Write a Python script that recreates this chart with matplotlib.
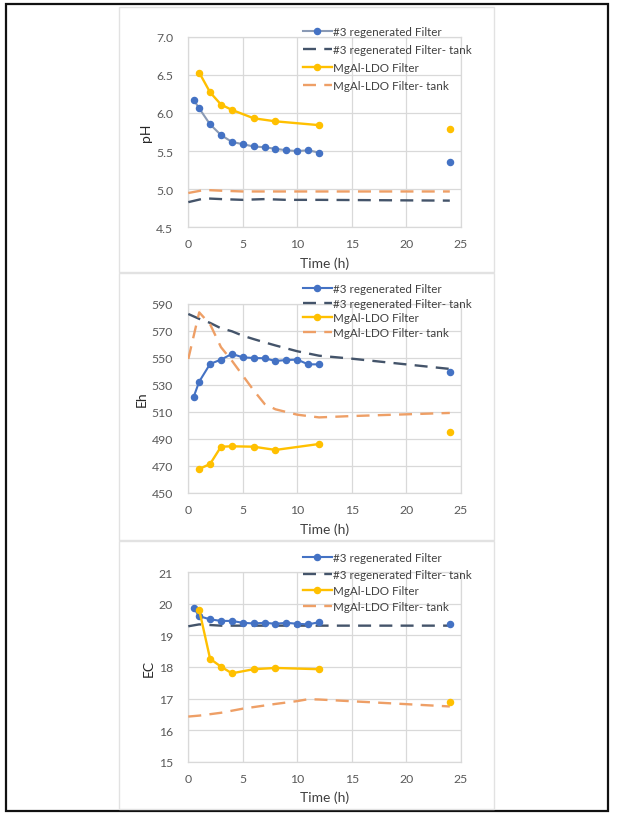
import matplotlib
matplotlib.use("Agg")
import matplotlib.pyplot as plt
from matplotlib.patches import Rectangle

plt.rcParams['font.family'] = ['Lato', 'DejaVu Sans']

# ---------------- data ----------------
t_filter3 = [0.5, 1, 2, 3, 4, 5, 6, 7, 8, 9, 10, 11, 12]
t_mgal = [1, 2, 3, 4, 6, 8, 12]
t24 = [24]

ph_filter3 = [6.17, 6.06, 5.85, 5.71, 5.62, 5.59, 5.56, 5.55, 5.53, 5.51, 5.50, 5.51, 5.48]
ph_filter3_24 = [5.35]
ph_mgal = [6.53, 6.27, 6.11, 6.04, 5.93, 5.89, 5.84]
ph_mgal_24 = [5.79]
t_ph_tank = [0, 1.5, 3, 5, 7, 9, 12, 24]
ph_tank3 = [4.83, 4.88, 4.87, 4.86, 4.87, 4.86, 4.86, 4.85]
ph_tank_mgal = [4.95, 4.99, 4.98, 4.97, 4.97, 4.97, 4.97, 4.97]

eh_filter3 = [521.4, 532.5, 545.6, 548.8, 553.0, 550.5, 550.0, 549.8, 547.8, 548.5, 548.8, 545.3, 545.3]
eh_filter3_24 = [540.0]
eh_mgal = [467.8, 471.5, 484.3, 484.6, 484.3, 481.9, 486.3]
eh_mgal_24 = [495.4]
t_eh_tank = [0, 1, 2, 3, 4, 5, 6, 7, 8, 10, 12, 15, 24]
eh_tank3 = [582.6, 579.0, 576.0, 572.0, 569.8, 566.5, 564.0, 561.6, 559.3, 555.0, 551.7, 549.5, 541.9]
eh_tank_mgal = [549.3, 583.8, 575.0, 558.0, 548.0, 537.0, 526.0, 516.0, 512.0, 508.0, 506.0, 507.0, 509.3]

ec_filter3 = [19.87, 19.61, 19.51, 19.46, 19.46, 19.40, 19.38, 19.40, 19.37, 19.40, 19.37, 19.35, 19.42]
ec_filter3_24 = [19.35]
ec_mgal = [19.81, 18.26, 18.01, 17.80, 17.93, 17.97, 17.93]
ec_mgal_24 = [16.90]
t_ec_tank = [0, 1, 3, 5, 8, 10, 11, 12, 24]
ec_tank3 = [19.29, 19.35, 19.31, 19.31, 19.31, 19.31, 19.31, 19.31, 19.31]
ec_tank_mgal = [16.43, 16.46, 16.55, 16.68, 16.83, 16.92, 16.98, 16.97, 16.75]

labels = ["#3 regenerated Filter", "#3 regenerated Filter- tank",
          "MgAl-LDO Filter", "MgAl-LDO Filter- tank"]
xticks = [0, 5, 10, 15, 20, 25]

# ---------------- styles ----------------
BLUE = '#4472C4'
NAVY = '#44546A'
YELLOW = '#FFC000'
ORANGE = '#EE9F66'
GRID = '#D9D9D9'
TICK = '#595959'

W, H = 617, 820
fig = plt.figure(figsize=(W / 100, H / 100), dpi=100)


def fx(px):
    return px / W


def fy(py):
    return 1 - py / H


# outer frame and panel frames
fig.patches.append(Rectangle((fx(5.5), fy(812)), fx(607.5) - fx(5.5), fy(5) - fy(812),
                             transform=fig.transFigure, fill=False, edgecolor='#111111',
                             linewidth=1.6, zorder=0))
for top, bot in [(7.5, 273), (274, 541), (542, 809.5)]:
    fig.patches.append(Rectangle((fx(119), fy(bot)), fx(493.5) - fx(119), fy(top) - fy(bot),
                                 transform=fig.transFigure, fill=False, edgecolor='#E2E2E2',
                                 linewidth=1.0, zorder=0))

panels = [
    dict(top=37.7, bot=228.3, ylim=(4.5, 7.0), yticks=[4.5, 5.0, 5.5, 6.0, 6.5, 7.0], yfmt='{:.1f}',
         ylabel='pH', f3=ph_filter3, f3_24=ph_filter3_24, mg=ph_mgal, mg_24=ph_mgal_24,
         tt=t_ph_tank, tk3=ph_tank3, tkm=ph_tank_mgal, line3='#8A9AB5',
         leg_top=32.7, leg_sp=0.6),
    dict(top=305.0, bot=494.0, ylim=(450, 590), yticks=[450, 470, 490, 510, 530, 550, 570, 590], yfmt='{:.0f}',
         ylabel='Eh', f3=eh_filter3, f3_24=eh_filter3_24, mg=eh_mgal, mg_24=eh_mgal_24,
         tt=t_eh_tank, tk3=eh_tank3, tkm=eh_tank_mgal, line3=BLUE,
         leg_top=290.0, leg_sp=0.3),
    dict(top=573.3, bot=762.7, ylim=(15, 21), yticks=[15, 16, 17, 18, 19, 20, 21], yfmt='{:.0f}',
         ylabel='EC', f3=ec_filter3, f3_24=ec_filter3_24, mg=ec_mgal, mg_24=ec_mgal_24,
         tt=t_ec_tank, tk3=ec_tank3, tkm=ec_tank_mgal, line3=BLUE,
         leg_top=559.3, leg_sp=0.45),
]

ax_left, ax_right = 188.3, 460.7
for p in panels:
    ax = fig.add_axes([fx(ax_left), fy(p['bot']), fx(ax_right) - fx(ax_left), fy(p['top']) - fy(p['bot'])])
    ax.set_xlim(0, 25)
    ax.set_ylim(*p['ylim'])
    ax.set_xticks(xticks)
    ax.set_yticks(p['yticks'])
    ax.set_yticklabels([p['yfmt'].format(v) for v in p['yticks']])
    ax.grid(True, color=GRID, linewidth=0.9)
    ax.set_axisbelow(True)
    for s in ax.spines.values():
        s.set_color(GRID)
        s.set_linewidth(0.9)
    ax.tick_params(length=0, colors=TICK, labelsize=8.8)
    ax.tick_params(axis='y', pad=11)
    ax.tick_params(axis='x', pad=8)
    ax.set_xlabel('Time (h)', fontsize=10, color='#404040', labelpad=5)
    ax.set_ylabel(p['ylabel'], fontsize=10, color='#262626', labelpad=3)

    h1, = ax.plot(t_filter3, p['f3'], color=p['line3'], linewidth=1.5, marker='o', markersize=4.4,
                  markerfacecolor=BLUE, markeredgecolor=BLUE, zorder=4)
    ax.plot(t24, p['f3_24'], linestyle='none', marker='o', markersize=4.4, color=BLUE, zorder=4)
    h2, = ax.plot(p['tt'], p['tk3'], color=NAVY, linewidth=1.7, dashes=(5.5, 3.5), zorder=3)
    h3, = ax.plot(t_mgal, p['mg'], color=YELLOW, linewidth=1.7, marker='o', markersize=4.4, zorder=5)
    ax.plot(t24, p['mg_24'], linestyle='none', marker='o', markersize=4.4, color=YELLOW, zorder=5)
    h4, = ax.plot(p['tt'], p['tkm'], color=ORANGE, linewidth=1.7, dashes=(5.5, 3.5), zorder=3)

    fs = 8.4
    fs_px = fs * 100 / 72
    fig.legend([h1, h2, h3, h4], labels, loc='upper left',
               bbox_to_anchor=(fx(302.5), fy(p['leg_top'] - fs_px * 0.5)),
               bbox_transform=fig.transFigure, frameon=False, fontsize=fs,
               handlelength=2.5, handletextpad=0.15, borderpad=0, borderaxespad=0,
               labelspacing=p['leg_sp'], labelcolor='#404040')

fig.savefig('out.png', dpi=100)
